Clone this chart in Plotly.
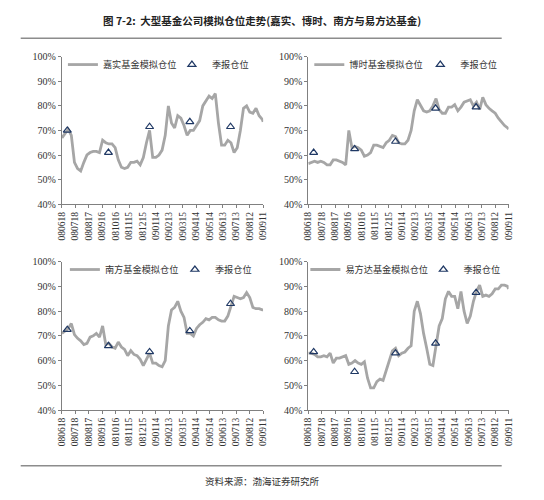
import plotly.graph_objects as go
from plotly.subplots import make_subplots

# weekly sample dates (080618 .. 090911)
DATES = [
    "2008-06-18", "2008-06-25", "2008-07-02", "2008-07-09", "2008-07-16", "2008-07-23",
    "2008-07-30", "2008-08-06", "2008-08-13", "2008-08-20", "2008-08-27", "2008-09-03",
    "2008-09-10", "2008-09-17", "2008-09-24", "2008-10-01", "2008-10-08", "2008-10-15",
    "2008-10-22", "2008-10-29", "2008-11-05", "2008-11-12", "2008-11-19", "2008-11-26",
    "2008-12-03", "2008-12-10", "2008-12-17", "2008-12-24", "2008-12-31", "2009-01-07",
    "2009-01-14", "2009-01-21", "2009-01-28", "2009-02-04", "2009-02-11", "2009-02-18",
    "2009-02-25", "2009-03-04", "2009-03-11", "2009-03-18", "2009-03-25", "2009-04-01",
    "2009-04-08", "2009-04-15", "2009-04-22", "2009-04-29", "2009-05-06", "2009-05-13",
    "2009-05-20", "2009-05-27", "2009-06-03", "2009-06-10", "2009-06-17", "2009-06-24",
    "2009-07-01", "2009-07-08", "2009-07-15", "2009-07-22", "2009-07-29", "2009-08-05",
    "2009-08-12", "2009-08-19", "2009-08-26", "2009-09-02", "2009-09-09", "2009-09-11",
]

# simulated positions (%)
JIASHI = [67, 69, 70.5, 68, 57, 54.5, 53.5, 57, 60, 61, 61.5, 61.5, 61, 66, 65, 64.5,
          64.5, 63, 58, 55, 54.5, 55, 57, 57, 57.5, 56, 59, 65, 70, 59, 59, 60, 62, 68,
          80, 73, 71, 76, 75, 72, 68, 70, 70, 72, 74, 80, 82, 84, 83, 85, 73, 64, 64, 66,
          65, 61, 63, 70, 79, 80, 77.5, 77, 79, 76, 74.5, 73.5]
BOSHI = [56.5, 57, 57.5, 57, 57.5, 57, 56, 56, 58, 58, 57.5, 57, 56, 70, 63, 63.5, 63,
         62, 59.5, 60, 61, 64, 64, 63.5, 63, 65, 66, 68, 67.5, 65, 64.5, 64.5, 66, 70,
         78, 82.5, 80, 78, 77.5, 78, 80, 83, 78.5, 77, 77, 79.5, 79.5, 80.5, 78, 79.5,
         81.5, 82, 82.5, 80, 81.5, 78.5, 83.5, 80.5, 79, 78, 77, 75, 73.5, 72, 71, 70.5]
NANFANG = [71, 72, 73, 75, 70.5, 69, 68, 66.5, 67, 69.5, 70, 71, 69.5, 74, 66.5, 67,
           65.5, 65, 67.5, 65.5, 64.5, 62, 64, 62.5, 62, 60.5, 58, 60.5, 63, 59, 59, 58,
           57.5, 60, 74, 80.5, 81.5, 84, 80, 77.5, 71, 71, 70, 73, 74.5, 75.5, 77, 76.5,
           77.5, 77.5, 76.5, 76, 76, 78, 82, 86, 85.5, 85, 85.5, 87.5, 85.5, 81.5, 81,
           81, 80.5, 80.5]
YIFANGDA = [63, 63, 62.5, 61.5, 61.5, 62, 61.5, 63, 59, 61, 61, 61.5, 62, 58.5, 59, 60,
            59, 58.5, 59.5, 53, 49, 49, 51.5, 52.5, 52, 56, 60.5, 64, 65, 62, 63, 63.5,
            65, 66, 80, 84, 79, 71, 65, 58.5, 58, 67, 74, 77, 85, 88, 86, 86, 81, 88, 80,
            75, 78, 84, 88, 90.5, 86, 86.5, 86, 87, 89, 89, 90.5, 90.5, 90, 89]

# quarterly reported positions (%)
Q_DATES = ["2008-06-30", "2008-09-30", "2008-12-31", "2009-03-31", "2009-06-30"]
JIASHI_Q = [70, 61, 71.5, 73.5, 71.5]
BOSHI_Q = [61, 62.5, 65.5, 79, 79.5]
NANFANG_Q = [72.5, 66, 63.5, 72, 83]
YIFANGDA_Q = [63.5, 55.5, 63, 67, 87.5]

TICK_DATES = ["2008-06-18", "2008-07-18", "2008-08-17", "2008-09-16", "2008-10-16",
              "2008-11-15", "2008-12-15", "2009-01-14", "2009-02-13", "2009-03-15",
              "2009-04-14", "2009-05-14", "2009-06-13", "2009-07-13", "2009-08-12",
              "2009-09-11"]
TICK_TEXT = ["080618", "080718", "080817", "080916", "081016", "081115", "081215",
             "090114", "090213", "090315", "090414", "090514", "090613", "090713",
             "090812", "090911"]
Y_TICKS = [40, 50, 60, 70, 80, 90, 100]
Y_TEXT = ["40%", "50%", "60%", "70%", "80%", "90%", "100%"]

PANELS = [
    ("嘉实基金模拟仓位", JIASHI, JIASHI_Q),
    ("博时基金模拟仓位", BOSHI, BOSHI_Q),
    ("南方基金模拟仓位", NANFANG, NANFANG_Q),
    ("易方达基金模拟仓位", YIFANGDA, YIFANGDA_Q),
]

CJK = "Noto Sans CJK SC"
SERIF = "Liberation Serif"
AXIS_COL = "#808080"

X_DOM = [[58 / 544, 263 / 544], [309 / 544, 513 / 544]]
Y_DOM = [[1 - 203 / 500, 1 - 52 / 500], [1 - 414 / 500, 1 - 262 / 500]]
# legend left edge (px) and width reserved for the first entry's text
LEG_X = [59, 310, 61, 306]
LEG_W = [64, 66, 65, 73]
LEG_Y = [60, 60, 270, 270]

fig = make_subplots(rows=2, cols=2)

for i, (name, vals, qvals) in enumerate(PANELS):
    r, c = i // 2 + 1, i % 2 + 1
    leg = "legend" if i == 0 else f"legend{i + 1}"
    fig.add_trace(go.Scatter(x=DATES, y=vals, mode="lines", name=name,
                             line=dict(color="#a6a6a6", width=2.8), legend=leg,
                             legendwidth=LEG_W[i]),
                  row=r, col=c)
    fig.add_trace(go.Scatter(x=Q_DATES, y=qvals, mode="markers", name="季报仓位",
                             marker=dict(symbol="triangle-up-open", size=7,
                                         color="#1f3864", line=dict(width=1.2)),
                             legend=leg),
                  row=r, col=c)
    fig.update_xaxes(type="date", range=["2008-06-18", "2009-09-11"],
                     tickvals=TICK_DATES, ticktext=TICK_TEXT, tickangle=-90,
                     domain=X_DOM[c - 1], showline=True, linecolor=AXIS_COL,
                     ticks="outside", ticklen=3, tickcolor=AXIS_COL, showgrid=False,
                     zeroline=False, tickfont=dict(family=SERIF, size=9.5, color="#333"),
                     row=r, col=c)
    fig.update_yaxes(range=[40, 100], tickvals=Y_TICKS, ticktext=Y_TEXT,
                     domain=Y_DOM[r - 1], showline=True,
                     linecolor=AXIS_COL, ticks="outside", ticklen=3, tickcolor=AXIS_COL,
                     showgrid=False, zeroline=False,
                     tickfont=dict(family=SERIF, size=10, color="#333"), row=r, col=c)
    fig.update_layout({leg: dict(x=LEG_X[i] / 544, y=1 - LEG_Y[i] / 500,
                                 xanchor="left", yanchor="middle",
                                 orientation="h", bgcolor="rgba(0,0,0,0)",
                                 font=dict(family=CJK, size=9.2, color="#333"),
                                 itemwidth=30, tracegroupgap=0)})

fig.add_annotation(x=262 / 544, y=1 - 15 / 500, xref="paper", yref="paper",
                   xanchor="center", yanchor="middle",
                   text="<b>图 7-2:  大型基金公司模拟仓位走势(嘉实、博时、南方与易方达基金)</b>",
                   showarrow=False, font=dict(family=CJK, size=10.5, color="#222"))
fig.add_annotation(x=262 / 544, y=1 - 487 / 500, xref="paper", yref="paper",
                   xanchor="center", yanchor="middle",
                   text="资料来源：渤海证券研究所", showarrow=False,
                   font=dict(family=CJK, size=9.5, color="#333"))
for yy in (1 - 33 / 500, 1 - 471 / 500):
    fig.add_shape(type="line", xref="paper", yref="paper", x0=16 / 544, x1=506 / 544,
                  y0=yy, y1=yy, line=dict(color="#8c8c8c", width=1.5))

fig.update_layout(width=544, height=500, margin=dict(l=0, r=0, t=0, b=0),
                  plot_bgcolor="white", paper_bgcolor="white", hovermode=False)

# drop the default page margin so the figure sits at the window's corner
fig.write_html("out.html", config={"displayModeBar": False},
               post_script="document.body.style.margin='0';")
